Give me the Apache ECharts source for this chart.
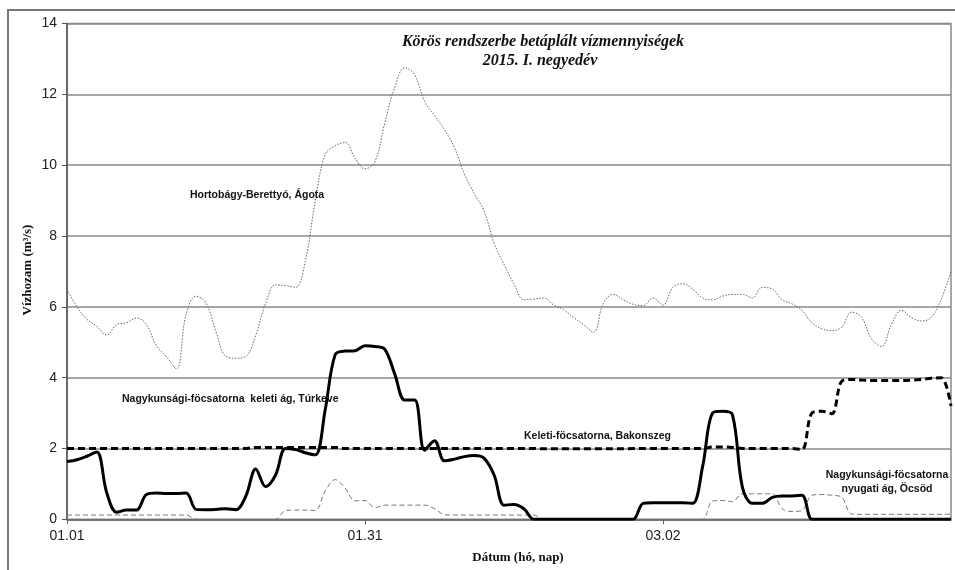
<!DOCTYPE html>
<html>
<head>
<meta charset="utf-8">
<script src="https://cdn.jsdelivr.net/npm/echarts@6/dist/echarts.min.js"></script>
<style>
html,body{margin:0;padding:0;background:#fff;}
#chart{width:955px;height:570px;}
</style>
</head>
<body>
<div id="chart"></div>
<script>
// Categories: daily dates 01.01 .. 03.31 (2015)
const categories = [];
(function(){
  const d = new Date(Date.UTC(2015,0,1));
  for (let i = 0; i < 90; i++) {
    const m = String(d.getUTCMonth()+1).padStart(2,'0');
    const day = String(d.getUTCDate()).padStart(2,'0');
    categories.push(m + '.' + day);
    d.setUTCDate(d.getUTCDate()+1);
  }
})();

const yTicks = [0, 2, 4, 6, 8, 10, 12, 14];

const hortobagyAgota = [6.5,6.0,5.65,5.45,5.2,5.5,5.55,5.68,5.5,4.9,
  4.6,4.25,5.8,6.3,6.1,5.3,4.6,4.55,4.6,5.2,
  6.1,6.62,6.6,6.55,7.3,9.0,10.3,10.55,10.64,10.2,
  9.9,10.1,11.2,12.2,12.75,12.55,11.8,11.4,11.0,10.5,
  9.75,9.2,8.7,7.8,7.2,6.65,6.2,6.22,6.25,6.05,
  5.92,5.7,5.5,5.28,6.1,6.35,6.2,6.07,6.03,6.25,
  6.05,6.55,6.65,6.5,6.25,6.2,6.3,6.35,6.35,6.25,
  6.55,6.5,6.2,6.08,5.9,5.55,5.38,5.33,5.43,5.85,
  5.7,5.1,4.88,5.5,5.9,5.7,5.6,5.7,6.2,7.0];

const keletiTurkeve = [1.63,1.68,1.78,1.9,0.75,0.2,0.26,0.26,0.7,0.74,
  0.73,0.73,0.74,0.28,0.27,0.28,0.3,0.27,0.65,1.42,
  0.92,1.25,2.0,1.97,1.88,1.82,3.1,4.65,4.75,4.76,
  4.9,4.88,4.8,4.1,3.37,3.37,1.95,2.22,1.65,1.7,
  1.77,1.8,1.72,1.25,0.4,0.42,0.3,0,0,0,
  0,0,0,0,0,0,0,0,0.45,0.47,
  0.47,0.47,0.47,0.45,1.5,3.0,3.05,2.95,0.9,0.45,
  0.45,0.62,0.66,0.66,0.68,0,0,0,0,0,
  0,0,0,0,0,0,0,0,0,0];

const keletiBakonszeg = [2.0,2.0,2.0,2.0,2.0,2.0,2.0,2.0,2.0,2.0,
  2.0,2.0,2.0,2.0,2.0,2.0,2.0,2.0,2.0,2.03,
  2.03,2.03,2.03,2.03,2.03,2.03,2.03,2.03,2.0,2.0,
  2.0,2.0,2.0,2.0,2.0,2.0,2.0,2.0,2.0,2.0,
  2.0,2.0,2.0,2.0,2.0,2.0,2.0,2.0,1.99,1.99,
  1.99,1.99,1.99,1.99,1.99,1.99,1.99,2.0,2.0,2.0,
  2.0,2.0,2.0,2.0,2.0,2.04,2.04,2.03,2.0,2.0,
  2.0,2.0,2.0,2.0,1.97,3.0,3.05,2.98,3.9,3.95,
  3.93,3.92,3.92,3.92,3.92,3.93,3.95,3.98,4.0,3.2];

const nyugatiOcsod = [0.12,0.12,0.12,0.12,0.12,0.12,0.12,0.12,0.12,0.12,
  0.12,0.12,0.12,0,0,0,0,0,0,0,
  0,0,0.25,0.26,0.26,0.25,0.8,1.12,0.88,0.52,
  0.53,0.33,0.4,0.4,0.4,0.4,0.4,0.3,0.13,0.12,
  0.12,0.12,0.12,0.12,0.12,0.12,0.12,0.12,0,0,
  0,0,0,0,0,0,0,0,0,0,
  0,0,0,0,0,0.52,0.53,0.5,0.72,0.72,
  0.72,0.72,0.3,0.22,0.25,0.68,0.7,0.68,0.62,0.15,
  0.14,0.14,0.14,0.14,0.14,0.14,0.14,0.14,0.14,0.14];

const seriesNames = [
  'Hortobágy-Berettyó, Ágota',
  'Nagykunsági-föcsatorna  keleti ág, Túrkeve',
  'Keleti-föcsatorna, Bakonszeg',
  'Nagykunsági-föcsatorna nyugati ág, Öcsöd'
];

const SANS = "'Liberation Sans', Arial, sans-serif";
const SERIF = "'Liberation Serif', 'Times New Roman', serif";

const chart = echarts.init(document.getElementById('chart'), null, {renderer:'canvas'});
const labelStyle = {fontFamily: SANS, fontWeight: 'bold', fontSize: 10.5, fill: '#111'};

chart.setOption({
  animation: false,
  backgroundColor: '#fff',
  grid: {left: 67, right: 4, top: 23.5, bottom: 50.7, show: true, borderColor: '#8a8a8a', borderWidth: 1.5},
  xAxis: {
    type: 'category', data: categories, boundaryGap: false,
    axisLine: {show: true, lineStyle: {color: '#666', width: 1.5}},
    axisTick: {show: true, length: 5, inside: false, interval: (i) => i % 30 === 0, lineStyle: {color: '#666'}},
    axisLabel: {interval: (i) => i % 30 === 0, fontFamily: SANS, fontSize: 14, color: '#222', margin: 10},
    splitLine: {show: false}
  },
  yAxis: {
    type: 'value', min: yTicks[0], max: yTicks[yTicks.length-1], interval: 2,
    axisLine: {show: true, lineStyle: {color: '#555', width: 1.5}},
    axisTick: {show: true, length: 5, lineStyle: {color: '#555'}},
    axisLabel: {fontFamily: SANS, fontSize: 14, color: '#222', margin: 10},
    splitLine: {show: true, lineStyle: {color: '#8a8a8a', width: 1.5}}
  },
  series: [
    {name: seriesNames[0], type: 'line', data: hortobagyAgota, smooth: 0.4, showSymbol: false,
     lineStyle: {color: '#666', width: 1, type: [1.5, 1.5]}, z: 3},
    {name: seriesNames[1], type: 'line', data: keletiTurkeve, smooth: 0.35, showSymbol: false,
     lineStyle: {color: '#000', width: 3}, z: 5},
    {name: seriesNames[2], type: 'line', data: keletiBakonszeg, smooth: 0.35, showSymbol: false,
     lineStyle: {color: '#000', width: 3, type: [7, 4]}, z: 4},
    {name: seriesNames[3], type: 'line', data: nyugatiOcsod, smooth: 0.35, showSymbol: false,
     lineStyle: {color: '#777', width: 1, type: [5, 3]}, z: 3}
  ],
  graphic: [
    {type: 'rect', shape: {x: 8, y: 10, width: 970, height: 600}, style: {fill: 'none', stroke: '#777', lineWidth: 2}, silent: true, z: 0},
    {type: 'text', x: 543, y: 42, style: {text: 'Körös rendszerbe betáplált vízmennyiségek', fontFamily: SERIF, fontStyle: 'italic', fontWeight: 'bold', fontSize: 16, fill: '#111', textAlign: 'center', textVerticalAlign: 'middle'}, z: 10},
    {type: 'text', x: 540, y: 61, style: {text: '2015. I. negyedév', fontFamily: SERIF, fontStyle: 'italic', fontWeight: 'bold', fontSize: 16, fill: '#111', textAlign: 'center', textVerticalAlign: 'middle'}, z: 10},
    {type: 'text', x: 28, y: 270, rotation: Math.PI/2, style: {text: 'Vízhozam (m³/s)', fontFamily: SERIF, fontWeight: 'bold', fontSize: 13, fill: '#111', textAlign: 'center', textVerticalAlign: 'middle'}, z: 10},
    {type: 'text', x: 518, y: 558, style: {text: 'Dátum (hó, nap)', fontFamily: SERIF, fontWeight: 'bold', fontSize: 13, fill: '#111', textAlign: 'center', textVerticalAlign: 'middle'}, z: 10},
    {type: 'text', x: 190, y: 195, style: Object.assign({text: seriesNames[0], textVerticalAlign: 'middle'}, labelStyle), z: 10},
    {type: 'text', x: 122, y: 399, style: Object.assign({text: seriesNames[1], textVerticalAlign: 'middle'}, labelStyle), z: 10},
    {type: 'text', x: 524, y: 436, style: Object.assign({text: seriesNames[2], textVerticalAlign: 'middle'}, labelStyle), z: 10},
    {type: 'text', x: 887, y: 482, style: Object.assign({text: 'Nagykunsági-föcsatorna\nnyugati ág, Öcsöd', textAlign: 'center', textVerticalAlign: 'middle', lineHeight: 14}, labelStyle), z: 10}
  ]
});
</script>
</body>
</html>
